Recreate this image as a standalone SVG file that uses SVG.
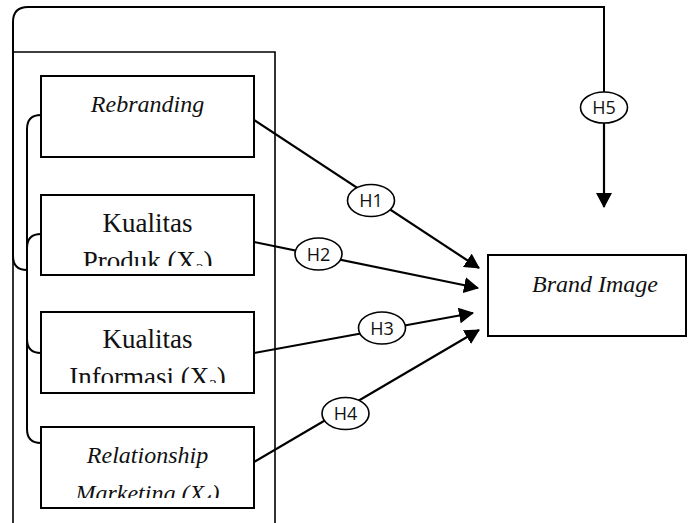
<svg xmlns="http://www.w3.org/2000/svg" width="688" height="523" viewBox="0 0 688 523">
<style>
.box{fill:#fff;stroke:#000;stroke-width:2}
.frame{fill:none;stroke:#000;stroke-width:1.6}
.ln{fill:none;stroke:#000;stroke-width:2}
.arr{fill:none;stroke:#000;stroke-width:2.2;marker-end:url(#ah)}
.ell{fill:#fff;stroke:#000;stroke-width:1.6}
.t{font-family:"Liberation Serif","Times New Roman",serif;font-size:27px;fill:#111;text-anchor:middle}
.ti{font-family:"Liberation Serif","Times New Roman",serif;font-size:24px;font-style:italic;fill:#111;text-anchor:middle}
.h{font-family:"Open Sans","Liberation Sans",sans-serif;font-size:18px;fill:#111;text-anchor:middle}
.sub{font-size:15px}
</style>
<defs>
<marker id="ah" markerUnits="userSpaceOnUse" markerWidth="16" markerHeight="16" refX="14" refY="8" orient="auto">
<path d="M0,0 L15,8 L0,16 Z" fill="#000"/>
</marker>
<clipPath id="c2"><rect x="41" y="195" width="213" height="71"/></clipPath>
<clipPath id="c3"><rect x="41" y="312" width="213" height="71"/></clipPath>
<clipPath id="c4"><rect x="41" y="427" width="213" height="71"/></clipPath>
</defs>

<g id="frame">
<path class="frame" d="M13,523 L13,52 L275,52 L275,523"/>
</g>

<g id="connectors">
<path class="ln" d="M41,115 Q27,115 27,129 L27,429 Q27,443 41,443"/>
<path class="ln" d="M41,234 Q27,234 27,248"/>
<path class="ln" d="M27,339 Q27,353 41,353"/>
<path class="ln" d="M27,270 Q13,270 13,256 L13,22 Q13,7 28,7 L604,7 L604,92"/>
<path class="arr" d="M604,123 L604,207"/>
<path class="arr" d="M254,120 L479,268"/>
<path class="arr" d="M254,242 L478,288"/>
<path class="arr" d="M254,353 L473,313"/>
<path class="arr" d="M254,462 L479,330"/>
</g>

<g id="rebranding">
<rect class="box" x="41" y="76" width="213" height="81"/>
<text class="ti" x="147.5" y="112">Rebranding</text>
</g>

<g id="kualitas-produk">
<rect class="box" x="41" y="195" width="213" height="80"/>
<g clip-path="url(#c2)">
<text class="t" x="147.5" y="232">Kualitas</text>
<text class="t" x="147.5" y="270">Produk (X<tspan class="sub" dy="4">2</tspan><tspan dy="-4">)</tspan></text>
</g>
</g>

<g id="kualitas-informasi">
<rect class="box" x="41" y="312" width="213" height="81"/>
<g clip-path="url(#c3)">
<text class="t" x="147.5" y="348">Kualitas</text>
<text class="t" x="147.5" y="386">Informasi (X<tspan class="sub" dy="4">3</tspan><tspan dy="-4">)</tspan></text>
</g>
</g>

<g id="relationship-marketing">
<rect class="box" x="41" y="427" width="213" height="81"/>
<g clip-path="url(#c4)">
<text class="ti" x="147.5" y="463">Relationship</text>
<text class="ti" x="147.5" y="501">Marketing (X<tspan class="sub" dy="4">4</tspan><tspan dy="-4">)</tspan></text>
</g>
</g>

<g id="brand-image">
<rect class="box" x="488" y="255" width="198" height="81"/>
<text class="ti" x="595" y="292">Brand Image</text>
</g>

<g id="h1"><ellipse class="ell" cx="371" cy="200.5" rx="23.5" ry="16"/><text class="h" x="371" y="207">H1</text></g>
<g id="h2"><ellipse class="ell" cx="318.5" cy="254" rx="23.5" ry="16"/><text class="h" x="318.5" y="260.5">H2</text></g>
<g id="h3"><ellipse class="ell" cx="382" cy="328" rx="23.5" ry="16"/><text class="h" x="382" y="334.5">H3</text></g>
<g id="h4"><ellipse class="ell" cx="345.5" cy="413.5" rx="23.5" ry="16"/><text class="h" x="345.5" y="420">H4</text></g>
<g id="h5"><ellipse class="ell" cx="604" cy="107.5" rx="23.5" ry="15.5"/><text class="h" x="604" y="114">H5</text></g>
</svg>
